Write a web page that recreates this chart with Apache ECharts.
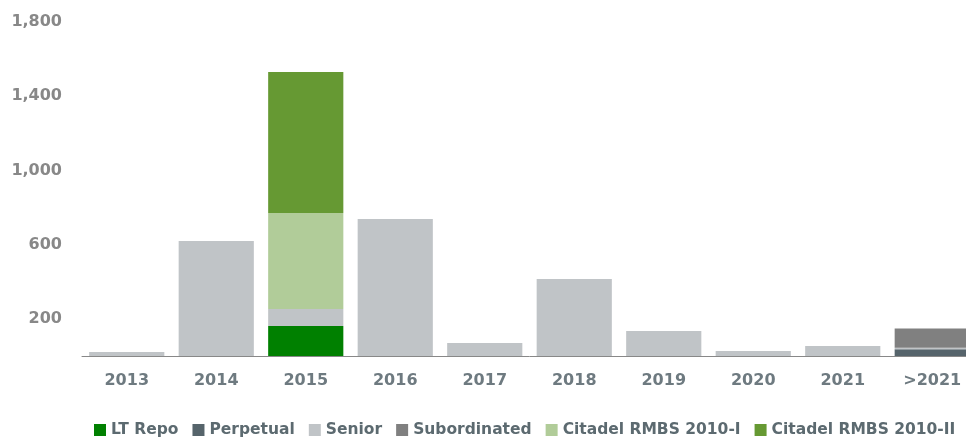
<!DOCTYPE html>
<html><head><meta charset="utf-8">
<script src="https://cdn.jsdelivr.net/npm/echarts@6/dist/echarts.min.js"></script>
<style>html,body{margin:0;padding:0;background:#fff;overflow:hidden}#c{width:1000px;height:437px}</style>
</head><body><div id="c"></div>
<script>
const categories = ['2013','2014','2015','2016','2017','2018','2019','2020','2021','>2021'];
const ltRepo      = [null,null,162,null,null,null,null,null,null,null];
const perpetual   = [null,null,null,null,null,null,null,null,null,36];
const senior      = [22,620,91,738,70,415,135,27,54,8];
const subordinated= [null,null,null,null,null,null,null,null,null,104];
const citadelI    = [null,null,517,null,null,null,null,null,null,null];
const citadelII   = [null,null,760,null,null,null,null,null,null,null];
const yTicks = [200,600,1000,1400,1800];

const font = '"DejaVu Sans", Verdana, sans-serif';
function s(name, data, color){
  return {name, type:'bar', stack:'t', data, barCategoryGap:'16%',
    itemStyle:{color}, emphasis:{disabled:true}};
}
const chart = echarts.init(document.getElementById('c'));
chart.setOption({
  animation:false,
  grid:{left:82, top:22, right:23, bottom:81, containLabel:false},
  xAxis:{type:'category', data:categories,
    axisLine:{lineStyle:{color:'#888', width:1}}, axisTick:{show:false},
    axisLabel:{color:'#6e7a80', fontFamily:font, fontWeight:'bold', fontSize:16, margin:17}},
  yAxis:{type:'value', min:0, max:1800, interval:200,
    splitLine:{show:false}, axisLine:{show:false}, axisTick:{show:false},
    axisLabel:{color:'#888', fontFamily:font, fontWeight:'bold', fontSize:16, margin:20,
      formatter:v => yTicks.includes(v) ? v.toLocaleString('en-US') : ''}},
  legend:{left:89, top:417, itemWidth:12, itemHeight:12, itemGap:14, icon:'rect',
    textStyle:{color:'#5c6a70', fontFamily:font, fontWeight:'bold', fontSize:15.5},
    data:['LT Repo','Perpetual','Senior','Subordinated','Citadel RMBS 2010-I','Citadel RMBS 2010-II']},
  series:[
    s('LT Repo', ltRepo, '#008000'),
    s('Perpetual', perpetual, '#56646b'),
    s('Senior', senior, '#c0c4c7'),
    s('Subordinated', subordinated, '#808080'),
    s('Citadel RMBS 2010-I', citadelI, '#b1cc99'),
    s('Citadel RMBS 2010-II', citadelII, '#669933')
  ]
});
</script></body></html>
